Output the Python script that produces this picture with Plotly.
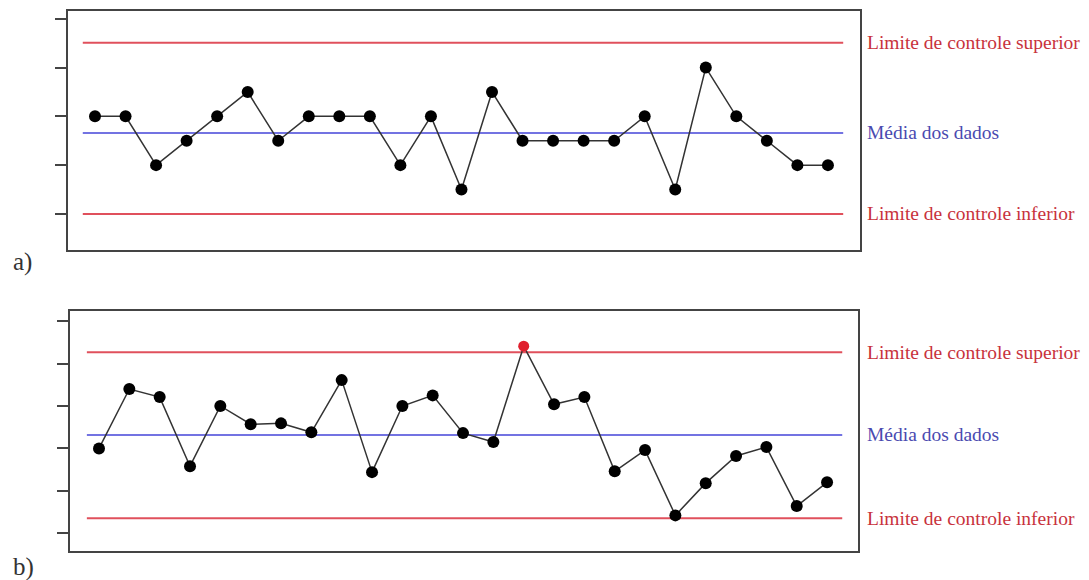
import numpy as np
import plotly.graph_objects as go

# Sample index (25 subgroups per chart)
samples = list(range(1, 26))

# a) process in statistical control
values_a = [2, 2, 1, 1.5, 2, 2.5, 1.5, 2, 2, 2, 1, 2, 0.5, 2.5, 1.5,
            1.5, 1.5, 1.5, 2, 0.5, 3, 2, 1.5, 1, 1]
ucl_a = 3.51
lcl_a = 0.0

# b) process out of control
values_b = [2.00, 3.40, 3.21, 1.58, 3.00, 2.57, 2.59, 2.38, 3.61, 1.44,
            3.00, 3.25, 2.36, 2.15, 4.41, 3.04, 3.21, 1.46, 1.96, 0.42,
            1.18, 1.82, 2.03, 0.64, 1.20]
ucl_b = 4.27
lcl_b = 0.35

ticks_a = [0, 1, 2, 3, 4]
ticks_b = [0, 1, 2, 3, 4, 5]

# Horizontal extent of the reference lines
line_span = [0.6, 25.5]

label_ucl = "Limite de controle superior"
label_mean = "Média dos dados"
label_lcl = "Limite de controle inferior"

RED_LINE = "#e0505c"
BLUE_LINE = "#4444d8"
RED_TEXT = "#c8323c"
BLUE_TEXT = "#4a4ab0"
FRAME = "#444444"
SERIF = "Liberation Serif, Times New Roman, serif"

W, H = 1089, 580

fig = go.Figure()


def add_panel(values, ucl, lcl, xa, ya):
    mean = float(np.mean(values))
    for level, color, width in ((ucl, RED_LINE, 2), (lcl, RED_LINE, 2), (mean, BLUE_LINE, 1.6)):
        fig.add_trace(go.Scatter(
            x=line_span, y=[level, level], mode="lines",
            line=dict(color=color, width=width),
            xaxis=xa, yaxis=ya, hoverinfo="skip", showlegend=False))
    # connecting polyline
    fig.add_trace(go.Scatter(
        x=samples, y=values, mode="lines",
        line=dict(color="#333333", width=1.5),
        xaxis=xa, yaxis=ya, hoverinfo="skip", showlegend=False))
    colors = ["#e0202e" if v > ucl else "#000000" for v in values]
    sizes = [11 if v > ucl else 12 for v in values]
    fig.add_trace(go.Scatter(
        x=samples, y=values, mode="markers",
        marker=dict(color=colors, size=sizes, opacity=1, line=dict(width=0)),
        xaxis=xa, yaxis=ya, showlegend=False))
    for level, text, color in ((ucl, label_ucl, RED_TEXT),
                               (mean, label_mean, BLUE_TEXT),
                               (lcl, label_lcl, RED_TEXT)):
        fig.add_annotation(
            x=865 / W, xref="paper", xanchor="left",
            y=level, yref=ya, yanchor="middle",
            text=text, showarrow=False,
            font=dict(family=SERIF, size=19.5, color=color))


add_panel(values_a, ucl_a, lcl_a, "x", "y")
add_panel(values_b, ucl_b, lcl_b, "x2", "y2")

axis_common = dict(showline=True, mirror=True, linecolor=FRAME, linewidth=1.5,
                   showgrid=False, zeroline=False)

fig.update_layout(
    width=W, height=H,
    margin=dict(l=0, r=0, t=0, b=0),
    paper_bgcolor="white", plot_bgcolor="white",
    xaxis=dict(domain=[68 / W, 860 / W], range=[0.116, 26.05],
               showticklabels=False, ticks="", anchor="y", **axis_common),
    yaxis=dict(domain=[1 - 250 / H, 1 - 11 / H], range=[-0.74, 4.16],
               tickvals=ticks_a, showticklabels=False, ticks="outside",
               ticklen=11, tickwidth=1.5, tickcolor=FRAME, anchor="x", **axis_common),
    xaxis2=dict(domain=[70 / W, 858 / W], range=[0.044, 26.02],
                showticklabels=False, ticks="", anchor="y2", **axis_common),
    yaxis2=dict(domain=[1 - 551 / H, 1 - 311 / H], range=[-0.42, 5.24],
                tickvals=ticks_b, showticklabels=False, ticks="outside",
                ticklen=11, tickwidth=1.5, tickcolor=FRAME, anchor="x2", **axis_common),
)

for text, ypix in (("a)", 262), ("b)", 567)):
    fig.add_annotation(x=11 / W, xref="paper", xanchor="left",
                       y=1 - ypix / H, yref="paper", yanchor="middle",
                       text=text, showarrow=False,
                       font=dict(family=SERIF, size=25, color="#333333"))

fig.write_html("out.html")
